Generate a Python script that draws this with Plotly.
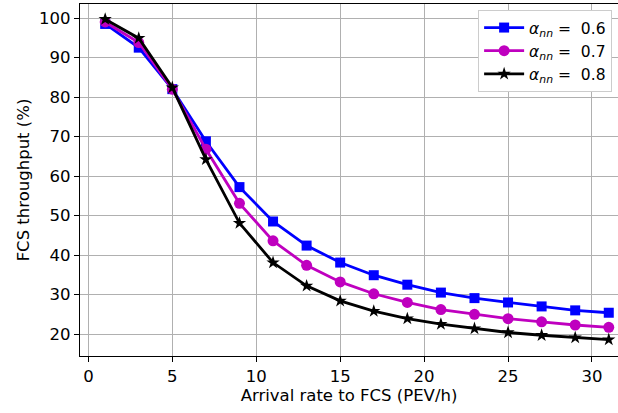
import plotly.graph_objects as go

x = [1, 3, 5, 7, 9, 11, 13, 15, 17, 19, 21, 23, 25, 27, 29, 31]
a06 = [98.5, 92.5, 82.0, 68.8, 57.2, 48.5, 42.4, 38.1, 34.9, 32.5, 30.5, 29.1, 28.0, 27.0, 26.0, 25.4]
a07 = [99.0, 93.8, 82.0, 66.8, 53.1, 43.6, 37.4, 33.2, 30.2, 28.0, 26.2, 25.0, 23.9, 23.1, 22.3, 21.7]
a08 = [99.7, 94.9, 82.4, 64.2, 48.1, 38.1, 32.2, 28.4, 25.8, 23.9, 22.5, 21.4, 20.4, 19.7, 19.1, 18.6]
labels = ["<i>α</i><sub><i>nn</i></sub> =  0.6", "<i>α</i><sub><i>nn</i></sub> =  0.7", "<i>α</i><sub><i>nn</i></sub> =  0.8"]
xticks = [0, 5, 10, 15, 20, 25, 30]
yticks = [20, 30, 40, 50, 60, 70, 80, 90, 100]

fig = go.Figure()
fig.add_trace(go.Scatter(x=x, y=a06, mode="lines+markers", name=labels[0],
                         line=dict(color="#0000ff", width=2.8),
                         marker=dict(symbol="square", size=10, color="#0000ff")))
fig.add_trace(go.Scatter(x=x, y=a07, mode="lines+markers", name=labels[1],
                         line=dict(color="#bf00bf", width=2.8),
                         marker=dict(symbol="circle", size=11, color="#bf00bf")))
fig.add_trace(go.Scatter(x=x, y=a08, mode="lines+markers", name=labels[2],
                         line=dict(color="#000000", width=2.8),
                         marker=dict(symbol="star", size=10, color="#000000")))

axis_common = dict(showgrid=True, gridcolor="#b0b0b0", gridwidth=1,
                   showline=True, linecolor="black", linewidth=1.2,
                   ticks="outside", ticklen=5, tickcolor="black", tickwidth=1,
                   zeroline=False, tickfont=dict(size=16.5, color="black"))

fig.update_layout(
    width=618, height=413,
    margin=dict(l=80, r=0, t=4, b=57),
    paper_bgcolor="white", plot_bgcolor="white",
    font=dict(family="DejaVu Sans", size=16.5, color="black"),
    showlegend=True,
    legend=dict(x=0.74, y=0.983, xanchor="left", yanchor="top",
                bgcolor="white", bordercolor="#cccccc", borderwidth=1,
                font=dict(size=15.5), tracegroupgap=0, itemwidth=40),
    xaxis=dict(range=[-0.5, 31.55], tickvals=xticks, mirror=True,
               title=dict(text="Arrival rate to FCS (PEV/h)", font=dict(size=16.5), standoff=4),
               **axis_common),
    yaxis=dict(range=[14.45, 103.55], tickvals=yticks, mirror=False,
               title=dict(text="FCS throughput (%)", font=dict(size=16.5), standoff=5),
               **axis_common),
)
fig.write_html("out.html")
